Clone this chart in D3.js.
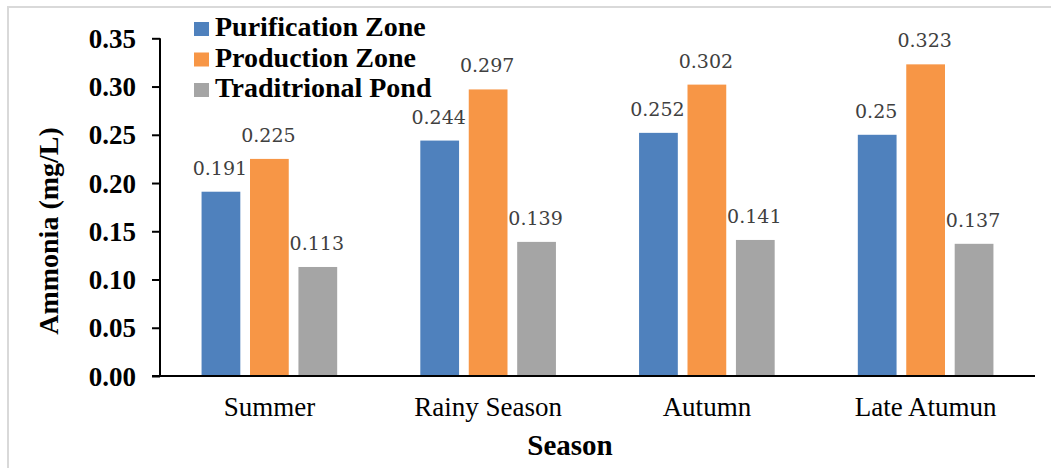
<!DOCTYPE html>
<html>
<head>
<meta charset="utf-8">
<script src="https://cdn.jsdelivr.net/npm/d3@7"></script>
<style>
    html, body { margin: 0; padding: 0; background: #fff; }
    svg { display: block; }
    .serif { font-family: "Liberation Serif", serif; }
    .lbl { font-family: "DejaVu Serif", serif; }
</style>
</head>
<body>
<div id="root_bar"></div>
<script>
var seasons = ["Summer", "Rainy Season", "Autumn", "Late Atumun"];
var seriesNames = ["Purification Zone", "Production Zone", "Traditrional Pond"];
var purification = [0.191, 0.244, 0.252, 0.25];
var production = [0.225, 0.297, 0.302, 0.323];
var traditional = [0.113, 0.139, 0.141, 0.137];
var yTicks = [0, 0.05, 0.10, 0.15, 0.20, 0.25, 0.30, 0.35];

window.onload = function () {
    var width = 1051, height = 468;
    var colors = ["#4f81bd", "#f79646", "#a5a5a5"];
    var values = [purification, production, traditional];

    var svg = d3.select("#root_bar")
        .append("svg")
        .attr("width", width)
        .attr("height", height);

    // light frame round the chart, right and bottom edges fall off the picture
    svg.append("rect")
        .attr("x", 8).attr("y", 7)
        .attr("width", width + 20).attr("height", height + 20)
        .attr("fill", "none")
        .attr("stroke", "#d9d9d9")
        .attr("stroke-width", 2);

    var x0 = d3.scaleBand()
        .domain(seasons)
        .range([160, 1035])
        .paddingInner(0.38)
        .paddingOuter(0.19);
    var x1 = d3.scaleBand()
        .domain(d3.range(3))
        .range([0, x0.bandwidth()])
        .paddingInner(0.2);
    var y = d3.scaleLinear()
        .domain([0, 0.35])
        .range([376, 38.3]);

    // bars
    var groups = svg.append("g")
        .selectAll("g")
        .data(seasons)
        .enter()
        .append("g")
        .attr("transform", function (d) { return "translate(" + x0(d) + ",0)"; });

    groups.selectAll("rect")
        .data(function (d, i) {
            return values.map(function (s, k) { return { k: k, v: s[i] }; });
        })
        .enter()
        .append("rect")
        .attr("x", function (d) { return x1(d.k); })
        .attr("y", function (d) { return y(d.v); })
        .attr("width", x1.bandwidth())
        .attr("height", function (d) { return y(0) - y(d.v); })
        .attr("fill", function (d) { return colors[d.k]; });

    groups.selectAll("text")
        .data(function (d, i) {
            return values.map(function (s, k) { return { k: k, v: s[i] }; });
        })
        .enter()
        .append("text")
        .attr("class", "lbl")
        .attr("x", function (d) { return x1(d.k) + x1.bandwidth() / 2 - 1; })
        .attr("y", function (d) { return y(d.v) - 17; })
        .attr("text-anchor", "middle")
        .attr("font-size", 19)
        .attr("fill", "#404040")
        .text(function (d) { return String(d.v); });

    // y axis
    var yAxis = d3.axisLeft(y)
        .tickValues(yTicks)
        .tickSize(8)
        .tickPadding(16)
        .tickFormat(d3.format(".2f"));
    var gy = svg.append("g")
        .attr("transform", "translate(160,0)")
        .call(yAxis)
        .attr("font-family", null)
        .attr("font-size", null);
    gy.select(".domain").attr("stroke", "#000").attr("stroke-width", 2)
        .attr("d", "M0," + y(0.35) + "V" + y(0));
    gy.selectAll(".tick line").attr("stroke", "#000").attr("stroke-width", 2);
    gy.selectAll(".tick text")
        .attr("class", "serif")
        .attr("dy", "0.34em")
        .attr("font-weight", "bold")
        .attr("font-size", 27)
        .attr("fill", "#000");

    // x axis
    var xAxis = d3.axisBottom(x0)
        .tickSize(0)
        .tickPadding(21);
    var gx = svg.append("g")
        .attr("transform", "translate(0," + y(0) + ")")
        .call(xAxis)
        .attr("font-family", null)
        .attr("font-size", null);
    gx.select(".domain").attr("stroke", "#000").attr("stroke-width", 2)
        .attr("d", "M152,0H1035");
    gx.selectAll(".tick text")
        .attr("class", "serif")
        .attr("dy", "0.71em")
        .attr("font-size", 27)
        .attr("fill", "#000");

    // axis titles
    svg.append("text")
        .attr("class", "serif")
        .attr("transform", "translate(58,231) rotate(-90)")
        .attr("text-anchor", "middle")
        .attr("font-weight", "bold")
        .attr("font-size", 28)
        .text("Ammonia (mg/L)");
    svg.append("text")
        .attr("class", "serif")
        .attr("x", 570)
        .attr("y", 455)
        .attr("text-anchor", "middle")
        .attr("font-weight", "bold")
        .attr("font-size", 29)
        .text("Season");

    // legend
    var legend = svg.append("g")
        .selectAll("g")
        .data(seriesNames)
        .enter()
        .append("g")
        .attr("transform", function (d, i) { return "translate(194," + (36 + i * 30.5) + ")"; });
    legend.append("rect")
        .attr("x", 0).attr("y", -14)
        .attr("width", 15).attr("height", 14)
        .attr("fill", function (d, i) { return colors[i]; });
    legend.append("text")
        .attr("class", "serif")
        .attr("x", 21)
        .attr("y", 0)
        .attr("font-weight", "bold")
        .attr("font-size", 28)
        .text(function (d) { return d; });
};
</script>
</body>
</html>
